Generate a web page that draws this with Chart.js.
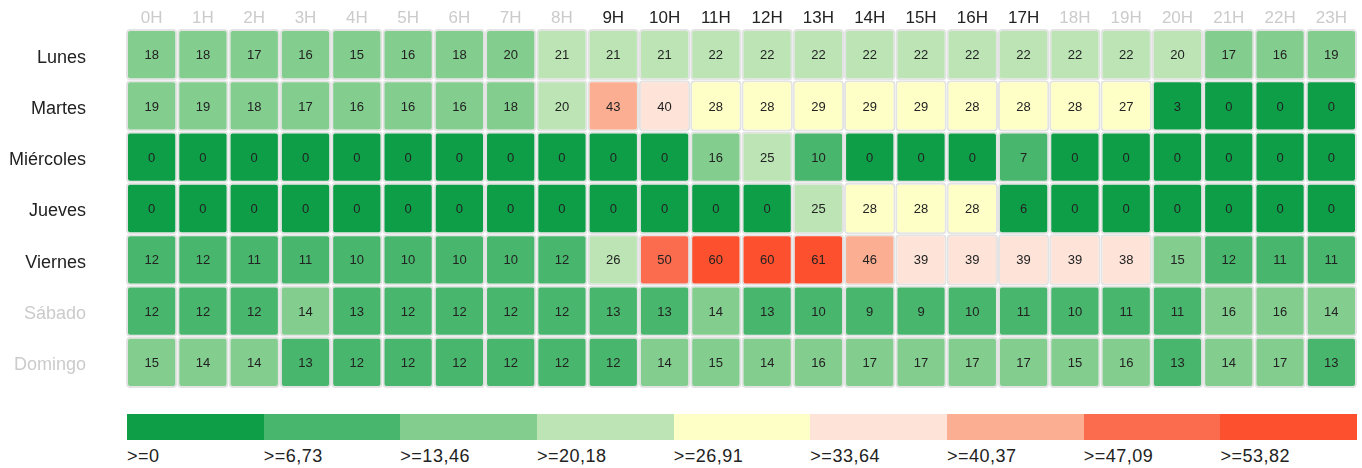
<!DOCTYPE html>
<html lang="es">
  <head>
    <meta charset="UTF-8" />
    <script src="https://cdn.jsdelivr.net/npm/chart.js"></script>
    <title>Heatmap</title>
    <style>
      body {
        margin: 0;
        background: #fff;
        font-family: "Liberation Sans", Arial, sans-serif;
      }
      #wrap {
        position: relative;
        width: 1362px;
        height: 468px;
      }
      #chart-box {
        position: absolute;
        left: 0;
        top: 0;
        width: 1362px;
        height: 392px;
      }
      #legend {
        position: absolute;
        left: 127px;
        top: 414px;
        width: 1230px;
        display: flex;
      }
      .seg {
        flex: 1;
      }
      .seg > div {
        height: 26px;
      }
      .seg > p {
        margin: 6px 0 0 0;
        font-family: "Liberation Sans", Arial, sans-serif;
        font-size: 18px;
        letter-spacing: 0.5px;
        color: #222;
      }
    </style>
  </head>
  <body>
    <div id="wrap">
      <div id="chart-box"><canvas id="heat"></canvas></div>
      <div id="legend"></div>
    </div>
    <script>
      // setup area
      const hours = ['0H','1H','2H','3H','4H','5H','6H','7H','8H','9H','10H','11H','12H','13H','14H','15H','16H','17H','18H','19H','20H','21H','22H','23H'];
      const days = ['Lunes', 'Martes', 'Miércoles', 'Jueves', 'Viernes', 'Sábado', 'Domingo'];
      const activeHours = ['9H','10H','11H','12H','13H','14H','15H','16H','17H'];
      const activeDays = ['Lunes', 'Martes', 'Miércoles', 'Jueves', 'Viernes'];

      const lunes = [18, 18, 17, 16, 15, 16, 18, 19.8, 21, 21, 21, 22, 22, 22, 22, 22, 22, 22, 22, 22, 20.3, 17, 16, 19];
      const martes = [19, 19, 18, 17, 16, 16, 16, 18, 20.4, 43, 40, 28, 28, 29, 29, 29, 28, 28, 28, 27, 3, 0, 0, 0];
      const miercoles = [0, 0, 0, 0, 0, 0, 0, 0, 0, 0, 0, 16, 25, 10, 0, 0, 0, 7, 0, 0, 0, 0, 0, 0];
      const jueves = [0, 0, 0, 0, 0, 0, 0, 0, 0, 0, 0, 0, 0, 25, 28, 28, 28, 6, 0, 0, 0, 0, 0, 0];
      const viernes = [12, 12, 11, 11, 10, 10, 10, 10, 12, 26, 50, 60, 60, 61, 46, 39, 39, 39, 39, 38, 15, 12, 11, 11];
      const sabado = [12, 12, 12, 14, 13, 12, 12, 12, 12, 13, 13, 14, 13, 10, 9, 9, 10, 11, 10, 11, 11, 16, 16, 14];
      const domingo = [15, 14, 14, 13, 12, 12, 12, 12, 12, 12, 14, 15, 14, 16, 17, 17, 17, 17, 15, 16, 13, 14, 17, 13];
      const values = [lunes, martes, miercoles, jueves, viernes, sabado, domingo];

      const thresholds = [0, 6.73, 13.46, 20.18, 26.91, 33.64, 40.37, 47.09, 53.82];
      const thresholdLabels = ['>=0', '>=6,73', '>=13,46', '>=20,18', '>=26,91', '>=33,64', '>=40,37', '>=47,09', '>=53,82'];
      const colors = ['#0e9e48', '#48b66c', '#83cd8f', '#bce4b5', '#feffc7', '#fde3d8', '#fbae91', '#fb6c4e', '#fd502f'];

      const DARK = '#222';
      const GRAY = '#cbcbcb';

      function colorFor(v) {
        let c = colors[0];
        thresholds.forEach((t, i) => {
          if (v >= t) c = colors[i];
        });
        return c;
      }

      // cell value labels
      const cellText = {
        id: 'cellText',
        afterDatasetsDraw(chart) {
          const ctx = chart.ctx;
          ctx.save();
          ctx.font = '13px "Liberation Sans", Arial, sans-serif';
          ctx.fillStyle = DARK;
          ctx.textAlign = 'center';
          ctx.textBaseline = 'middle';
          chart.data.datasets.forEach((ds, d) => {
            chart.getDatasetMeta(d).data.forEach((el, h) => {
              ctx.fillText(String(Math.round(values[d][h])), el.x, (el.y + el.base) / 2 + 1);
            });
          });
          ctx.restore();
        }
      };

      // Render area
      const chart = new Chart(document.getElementById('heat'), {
        type: 'bar',
        data: {
          labels: hours,
          datasets: days.map((day, d) => ({
            label: day,
            data: values[d].map(() => [d, d + 1]),
            backgroundColor: (c) => colorFor(values[d][c.dataIndex]),
            borderColor: '#e3e3e3',
            borderWidth: 2,
            borderRadius: 4,
            borderSkipped: false,
            inflateAmount: 0,
            barPercentage: 1,
            categoryPercentage: 1,
          })),
        },
        options: {
          responsive: true,
          maintainAspectRatio: false,
          animation: false,
          layout: {
            padding: { left: 0, right: 5, top: 0, bottom: 4 },
          },
          plugins: {
            legend: { display: false },
            tooltip: { enabled: false },
          },
          scales: {
            x: {
              position: 'top',
              stacked: true,
              grid: { display: false, drawTicks: false },
              border: { display: false },
              ticks: {
                padding: 0,
                font: { size: 17, family: '"Liberation Sans", Arial, sans-serif' },
                color: (c) => activeHours.includes(hours[c.index]) ? DARK : GRAY,
              },
              afterFit: (s) => { s.height = 29; s.paddingLeft = 0; s.paddingRight = 0; },
            },
            y: {
              display: false,
              min: 0,
              max: days.length,
              reverse: true,
            },
            y2: {
              type: 'category',
              labels: days,
              position: 'left',
              offset: true,
              grid: { display: false, drawTicks: false },
              border: { display: false },
              ticks: {
                padding: 40,
                labelOffset: 3,
                font: { size: 18, family: '"Liberation Sans", Arial, sans-serif' },
                color: (c) => activeDays.includes(days[c.index]) ? DARK : GRAY,
              },
              afterFit: (s) => { s.width = 126; s.paddingTop = 0; s.paddingBottom = 0; },
            },
          },
        },
        plugins: [cellText],
      });

      // color legend
      const legend = document.getElementById('legend');
      thresholdLabels.forEach((txt, i) => {
        const seg = document.createElement('div');
        seg.className = 'seg';
        const block = document.createElement('div');
        block.style.backgroundColor = colors[i];
        const p = document.createElement('p');
        p.textContent = txt;
        seg.appendChild(block);
        seg.appendChild(p);
        legend.appendChild(seg);
      });
    </script>
  </body>
</html>
